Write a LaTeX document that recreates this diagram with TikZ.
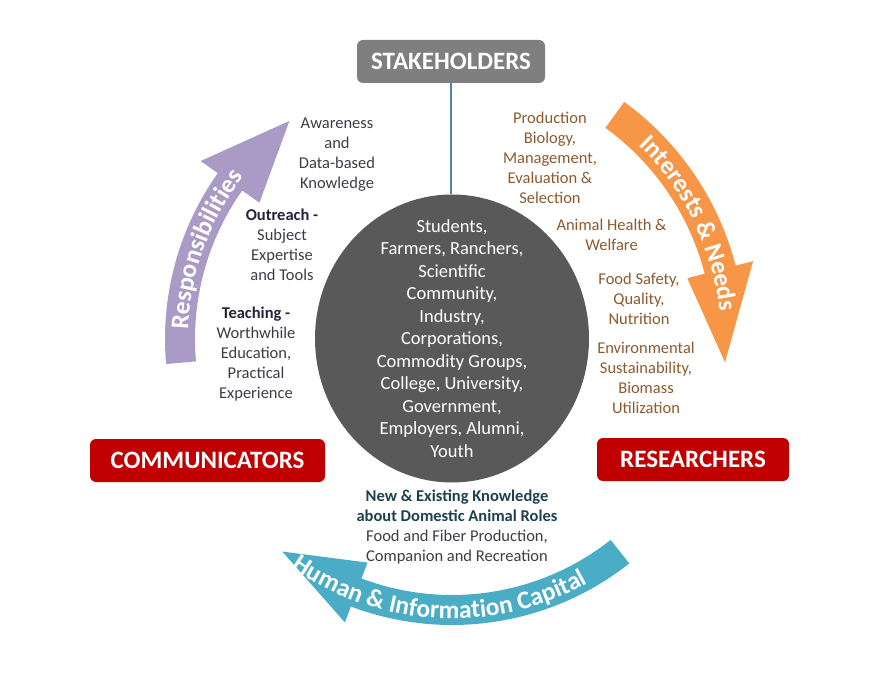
\documentclass[tikz,border=0pt]{standalone}
\usepackage{fontspec}
\setmainfont{Carlito}
\usetikzlibrary{decorations.text}
\definecolor{hubgray}{HTML}{595959}
\definecolor{stakegray}{HTML}{7F7F7F}
\definecolor{boxred}{HTML}{C00000}
\definecolor{linkblue}{HTML}{4F81BD}
\definecolor{purp}{HTML}{AA9BC6}
\definecolor{orng}{HTML}{F79646}
\definecolor{aqua}{HTML}{4BACC6}
\definecolor{lefttext}{HTML}{3C3C48}
\definecolor{leftbold}{HTML}{23233A}
\definecolor{browntext}{HTML}{8C5A2C}
\definecolor{tealbold}{HTML}{1E4150}
\newcommand\arrowfont{\fontsize{25.5}{30}\selectfont\bfseries\color{white}}
\begin{document}
\begin{tikzpicture}[x=1pt,y=1pt,
  boxlbl/.style={rounded corners=6pt, text=white, font=\bfseries\fontsize{25}{30}\selectfont, minimum height=43pt, inner sep=0pt},
  lefttxt/.style={align=center, text=lefttext, font=\fontsize{16.5}{20}\selectfont, inner sep=0pt},
  righttxt/.style={align=center, text=browntext, font=\fontsize{16.5}{20}\selectfont, inner sep=0pt},
  bottxt/.style={align=center, text=lefttext, font=\fontsize{16.5}{20}\selectfont, inner sep=0pt},
  hubtxt/.style={align=center, text=white, font=\fontsize{18.5}{22.5}\selectfont, inner sep=0pt},
  link/.style={draw=linkblue, line width=1.3pt}
]
\useasboundingbox (0,0) rectangle (893,675);

% central disc
\fill[hubgray] (452,336.5) ellipse [x radius=137pt, y radius=144pt];
\coordinate (hubtop) at (451,480.5);

% arrows
\begin{scope}[shift={(452,336)}]
  % purple (Responsibilities)
  \fill[purp] (185:287pt) arc[start angle=185, end angle=144.7, radius=287pt]
     -- (144.7:308pt) -- (126.7:272pt) -- (144.7:236pt) -- (144.7:257pt)
     arc[start angle=144.7, end angle=185, radius=257pt] -- cycle;
  % orange (Interests & Needs)
  \fill[orng] (54:293pt) arc[start angle=54, end angle=14.5, radius=293pt]
     -- (14.5:311pt) -- (-4.9:274pt) -- (14.5:243pt) -- (14.5:261pt)
     arc[start angle=14.5, end angle=54, radius=261pt] -- cycle;
  % blue (Human & Information Capital)
  \fill[aqua] (-51.7:256pt) arc[start angle=-51.7, end angle=-110.7, radius=256pt]
     -- (-110.7:239pt) -- (-128.6:272pt) -- (-110.7:303pt) -- (-110.7:286pt)
     arc[start angle=-110.7, end angle=-51.7, radius=286pt] -- cycle;

  \path[decorate, decoration={text along path, text align=center,
      text={|\arrowfont|Responsibilities}}]
    (192:264pt) arc[start angle=192, end angle=128, radius=264pt];
  \path[decorate, decoration={text along path, text align=center,
      text={|\arrowfont|Interests {\&} Needs}}]
    (58:269pt) arc[start angle=58, end angle=-6, radius=269pt];
  \path[decorate, decoration={text along path, text align=center,
      text={|\arrowfont|Human {\&} Information Capital}}]
    (-135:279.5pt) arc[start angle=-135, end angle=-51, radius=279.5pt];
\end{scope}

% boxes
\node[boxlbl, fill=stakegray, minimum width=188pt] (stake) at (451,613.5) {STAKEHOLDERS};
\node[boxlbl, fill=boxred, minimum width=235pt] (comm) at (207.5,214.5) {COMMUNICATORS};
\node[boxlbl, fill=boxred, minimum width=192pt] (res) at (693,215.5) {RESEARCHERS};

\draw[link] (stake.south -| hubtop) -- (hubtop);

% hub text
\node[hubtxt] (hub) at (452,336.5) {Students,\\Farmers, Ranchers,\\Scientific\\Community,\\Industry,\\Corporations,\\Commodity Groups,\\College, University,\\Government,\\Employers, Alumni,\\Youth};

% left texts
\node[lefttxt] (aware) at (337,520) {Awareness\\and\\Data-based\\Knowledge};
\node[lefttxt] (outreach) at (282,430) {\textcolor{leftbold}{\bfseries Outreach -}\\Subject\\Expertise\\and Tools};
\node[lefttxt] (teach) at (256,321) {\textcolor{leftbold}{\bfseries Teaching -}\\Worthwhile\\Education,\\Practical\\Experience};

% right texts
\node[righttxt] (prod) at (550,517) {Production\\Biology,\\Management,\\Evaluation \&\\Selection};
\node[righttxt] (health) at (611.5,440) {Animal Health \&\\Welfare};
\node[righttxt] (food) at (639,376) {Food Safety,\\Quality,\\Nutrition};
\node[righttxt] (env) at (646,297) {Environmental\\Sustainability,\\Biomass\\Utilization};

% bottom text
\node[bottxt] (know) at (457,147.5) {\textcolor{tealbold}{\bfseries New \& Existing Knowledge}\\\textcolor{tealbold}{\bfseries about Domestic Animal Roles}\\Food and Fiber Production,\\Companion and Recreation};
\end{tikzpicture}
\end{document}
